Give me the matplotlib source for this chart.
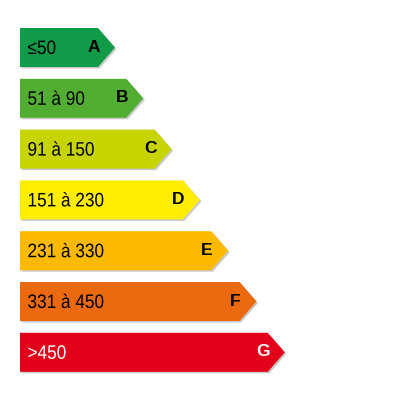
import matplotlib
matplotlib.use("Agg")
import matplotlib.pyplot as plt
from matplotlib.patches import Polygon, PathPatch
from matplotlib.textpath import TextPath
from matplotlib.font_manager import FontProperties
from matplotlib.transforms import Affine2D

plt.rcParams['font.family'] = ['Liberation Sans', 'DejaVu Sans']

classes = ['A', 'B', 'C', 'D', 'E', 'F', 'G']
ranges = ['≤50', '51 à 90', '91 à 150', '151 à 230', '231 à 330', '331 à 450', '>450']
colors = ['#119a48', '#52ae32', '#c8d400', '#ffed00', '#fbba00', '#eb6a0f', '#e3001b']
text_colors = ['black'] * 6 + ['white']

fig = plt.figure(figsize=(4, 4), dpi=100)
ax = fig.add_axes([0, 0, 1, 1])
ax.set_xlim(0, 400)
ax.set_ylim(400, 0)
ax.axis('off')

prop = FontProperties(family='Liberation Sans')
x0 = 20
h = 39
step = 50.8
tip = 17
cap = 14  # cap height of range text in px
for i, cls in enumerate(classes):
    top = 28 + i * step
    mid = top + h / 2
    end = 115 + i * 28.3
    body = end - tip
    pts = [(x0, top), (body, top), (end, mid), (body, top + h), (x0, top + h)]
    shadow = [(x + 1.5, y + 1.5) for x, y in pts]
    ax.add_patch(Polygon(shadow, closed=True, facecolor='#c8c8c8', edgecolor='none'))
    ax.add_patch(Polygon(pts, closed=True, facecolor=colors[i], edgecolor='none'))
    # range text, slightly condensed
    tp = TextPath((0, 0), ranges[i], size=cap / 0.716, prop=prop)
    tr = Affine2D().scale(0.88, -1).translate(x0 + 7.5, mid + cap / 2 - 0.5)
    ax.add_patch(PathPatch(tr.transform_path(tp), facecolor=text_colors[i],
                           edgecolor='none'))
    ax.text(end - 21.5, mid - 0.5, cls, fontsize=12.5, fontweight='bold',
            color=text_colors[i], va='center', ha='center')

fig.savefig('out.png', dpi=100)
